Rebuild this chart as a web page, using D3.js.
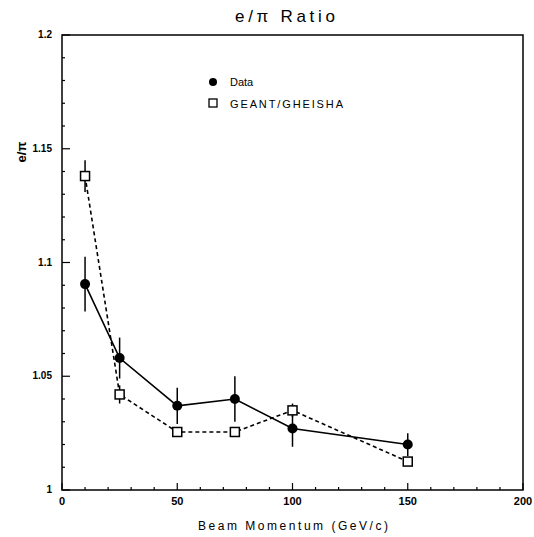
<!DOCTYPE html>
<html>
<head>
<meta charset="utf-8">
<script src="https://cdn.jsdelivr.net/npm/d3@7"></script>
<style>
html,body{margin:0;padding:0;background:#fff;}
svg{display:block;}
text{font-family:"Liberation Sans",Arial,sans-serif;fill:#000;}
</style>
</head>
<body>
<svg id="chart" width="534" height="537"></svg>
<script>
// ---- data ----
const momentum = [10, 25, 50, 75, 100, 150];
const dataRatio = [1.0905, 1.058, 1.037, 1.040, 1.027, 1.020];
const dataErr   = [0.012, 0.009, 0.008, 0.010, 0.008, 0.005];
const simRatio  = [1.138, 1.042, 1.0255, 1.0255, 1.035, 1.0125];
const simErr    = [0.007, 0.004, 0.002, 0.002, 0.003, 0.002];
const xTicks = [0, 50, 100, 150, 200];
const yTicks = [1, 1.05, 1.1, 1.15, 1.2];
const yTickLabels = ["1", "1.05", "1.1", "1.15", "1.2"];
const seriesNames = ["Data", "GEANT/GHEISHA"];

const svg = d3.select("#chart");
const L = 62, R = 523, T = 35, B = 490;
const x = d3.scaleLinear().domain([0, 200]).range([L, R]);
const y = d3.scaleLinear().domain([1, 1.2]).range([B, T]);

// frame
svg.append("rect").attr("x", L).attr("y", T).attr("width", R - L).attr("height", B - T)
  .attr("fill", "none").attr("stroke", "#000").attr("stroke-width", 1.5);

// x ticks (inward)
const xMinor = d3.range(0, 201, 10);
svg.append("g").selectAll("line").data(xMinor).join("line")
  .attr("x1", d => x(d)).attr("x2", d => x(d))
  .attr("y1", B).attr("y2", d => B - (d % 50 === 0 ? 7 : 3))
  .attr("stroke", "#000").attr("stroke-width", 1.2);
svg.append("g").selectAll("text").data(xTicks).join("text")
  .attr("x", d => x(d)).attr("y", 505).attr("text-anchor", "middle")
  .attr("font-size", 11).attr("font-weight", "bold").text(d => d);

// y ticks (inward)
const yMinor = d3.range(0, 21).map(i => 1 + i * 0.01);
svg.append("g").selectAll("line").data(yMinor).join("line")
  .attr("y1", d => y(d)).attr("y2", d => y(d))
  .attr("x1", L).attr("x2", (d, i) => L + (i % 5 === 0 ? 8 : 3))
  .attr("stroke", "#000").attr("stroke-width", 1.2);
svg.append("g").selectAll("text").data(yTicks).join("text")
  .attr("x", 52).attr("y", d => y(d) + 3).attr("text-anchor", "end")
  .attr("font-size", 10).attr("font-weight", "bold").text((d, i) => yTickLabels[i]);

// title & axis labels
svg.append("text").attr("x", 285).attr("y", 22).attr("text-anchor", "middle")
  .attr("font-size", 17).attr("textLength", 100).attr("lengthAdjust", "spacing").text("e/π Ratio");
svg.append("text").attr("x", 293).attr("y", 530).attr("text-anchor", "middle")
  .attr("font-size", 12).attr("textLength", 190).attr("lengthAdjust", "spacing").text("Beam Momentum (GeV/c)");
svg.append("text").attr("transform", "translate(26,152) rotate(-90)").attr("text-anchor", "middle")
  .attr("font-size", 13).attr("font-weight", "bold").text("e/π");

// series
const sim = momentum.map((m, i) => ({m, v: simRatio[i], e: simErr[i]}));
const dat = momentum.map((m, i) => ({m, v: dataRatio[i], e: dataErr[i]}));
const line = d3.line().x(d => x(d.m)).y(d => y(d.v));

// error bars
svg.append("g").selectAll("line").data(sim).join("line")
  .attr("x1", d => x(d.m)).attr("x2", d => x(d.m))
  .attr("y1", d => y(d.v + d.e)).attr("y2", d => y(d.v - d.e))
  .attr("stroke", "#000").attr("stroke-width", 1.5);
svg.append("g").selectAll("line").data(dat).join("line")
  .attr("x1", d => x(d.m)).attr("x2", d => x(d.m))
  .attr("y1", d => y(d.v + d.e)).attr("y2", d => y(d.v - d.e))
  .attr("stroke", "#000").attr("stroke-width", 1.5);

svg.append("path").datum(sim).attr("d", line).attr("fill", "none")
  .attr("stroke", "#000").attr("stroke-width", 1.6).attr("stroke-dasharray", "4,3");
svg.append("path").datum(dat).attr("d", line).attr("fill", "none")
  .attr("stroke", "#000").attr("stroke-width", 1.6);

svg.append("g").selectAll("rect").data(sim).join("rect")
  .attr("x", d => x(d.m) - 4.5).attr("y", d => y(d.v) - 4.5)
  .attr("width", 9).attr("height", 9)
  .attr("fill", "#fff").attr("stroke", "#000").attr("stroke-width", 1.5);
svg.append("g").selectAll("circle").data(dat).join("circle")
  .attr("cx", d => x(d.m)).attr("cy", d => y(d.v)).attr("r", 5)
  .attr("fill", "#000");

// legend
svg.append("circle").attr("cx", 213).attr("cy", 82).attr("r", 4).attr("fill", "#000");
svg.append("rect").attr("x", 209).attr("y", 99).attr("width", 8).attr("height", 8)
  .attr("fill", "#fff").attr("stroke", "#000").attr("stroke-width", 1.3);
svg.append("text").attr("x", 230).attr("y", 86).attr("font-size", 11).text(seriesNames[0]);
svg.append("text").attr("x", 230).attr("y", 108).attr("font-size", 11)
  .attr("textLength", 113).attr("lengthAdjust", "spacing").text(seriesNames[1]);
</script>
</body>
</html>
